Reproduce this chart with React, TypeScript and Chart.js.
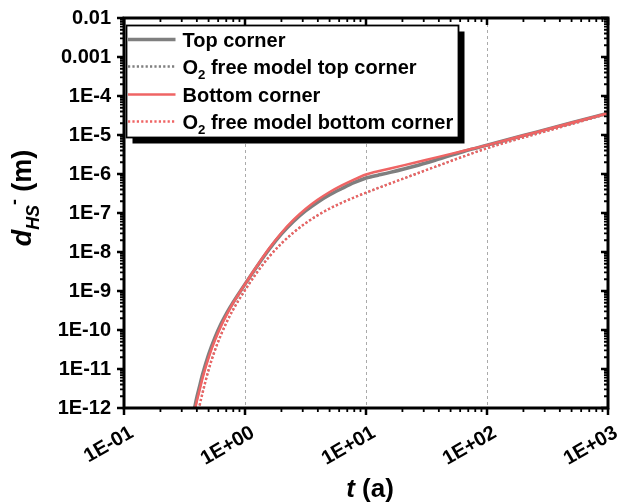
import React, { useEffect, useRef } from 'react';
import { Chart, registerables } from 'chart.js';

Chart.register(...registerables);

// ---- data (t in years, d in metres) ----
const TIME_A = [0.38, 0.389, 0.398, 0.417, 0.447, 0.501, 0.562, 0.631, 0.708, 0.794, 1, 1.259, 1.585, 1.995, 2.512, 3.162, 3.981, 5.012, 6.31, 7.943, 10, 11.22, 12.59, 15.85, 25.12, 39.81, 63.1, 100, 158.5, 251.2, 501.2, 1000];

const TOP_CORNER = [8.91e-13, 1.26e-12, 1.76e-12, 3.16e-12, 7.41e-12, 2.37e-11, 6.17e-11, 1.4e-10, 2.75e-10, 5.01e-10, 1.5e-9, 4.34e-9, 1.18e-8, 2.87e-8, 6.06e-8, 1.13e-7, 1.89e-7, 2.93e-7, 4.24e-7, 5.99e-7, 7.9e-7, 8.61e-7, 9.33e-7, 1.1e-6, 1.58e-6, 2.4e-6, 3.72e-6, 5.5e-6, 8.02e-6, 1.17e-5, 2.06e-5, 3.63e-5];
const O2_FREE_TOP = [2.51e-13, 3.55e-13, 5.01e-13, 1.0e-12, 2.51e-12, 9.68e-12, 2.92e-11, 7.35e-11, 1.63e-10, 3.25e-10, 1.05e-9, 3.02e-9, 7.59e-9, 1.64e-8, 3.14e-8, 5.46e-8, 8.71e-8, 1.3e-7, 1.83e-7, 2.49e-7, 3.32e-7, 3.8e-7, 4.37e-7, 5.71e-7, 9.73e-7, 1.65e-6, 2.78e-6, 4.57e-6, 7.05e-6, 1.05e-5, 1.91e-5, 3.55e-5];
const BOTTOM_CORNER = [7.08e-13, 1.0e-12, 1.4e-12, 2.51e-12, 6.03e-12, 1.97e-11, 5.25e-11, 1.22e-10, 2.51e-10, 4.79e-10, 1.5e-9, 4.44e-9, 1.24e-8, 3.07e-8, 6.65e-8, 1.27e-7, 2.18e-7, 3.45e-7, 5.1e-7, 7.2e-7, 9.72e-7, 1.08e-6, 1.17e-6, 1.38e-6, 1.95e-6, 2.75e-6, 3.89e-6, 5.5e-6, 8.02e-6, 1.17e-5, 2.06e-5, 3.63e-5];
const O2_FREE_BOTTOM = [2.51e-13, 3.55e-13, 5.01e-13, 1.0e-12, 2.51e-12, 9.68e-12, 2.92e-11, 7.35e-11, 1.63e-10, 3.25e-10, 1.05e-9, 3.02e-9, 7.59e-9, 1.64e-8, 3.14e-8, 5.46e-8, 8.71e-8, 1.3e-7, 1.83e-7, 2.49e-7, 3.32e-7, 3.8e-7, 4.37e-7, 5.71e-7, 9.73e-7, 1.65e-6, 2.78e-6, 4.57e-6, 7.05e-6, 1.05e-5, 1.91e-5, 3.55e-5];

const X_DECADES = [-1, 0, 1, 2, 3];
const X_TICK_LABELS = ['1E-01', '1E+00', '1E+01', '1E+02', '1E+03'];
const Y_DECADES = [-2, -3, -4, -5, -6, -7, -8, -9, -10, -11, -12];
const Y_TICK_LABELS = ['0.01', '0.001', '1E-4', '1E-5', '1E-6', '1E-7', '1E-8', '1E-9', '1E-10', '1E-11', '1E-12'];

const SERIES_LABELS = ['Top corner', 'O2 free model top corner', 'Bottom corner', 'O2 free model bottom corner'];

const GRAY = '#7f7f7f';
const RED = '#ef6464';
const FONT = "'Liberation Sans', Arial, Helvetica, sans-serif";

type Part = { t: string; italic?: boolean; small?: boolean; dy?: number };

function labelParts(label: string): Part[] {
  if (label.startsWith('O2')) {
    return [{ t: 'O' }, { t: '2', small: true, dy: 0.28 }, { t: label.slice(2) }];
  }
  return [{ t: label }];
}

function setFont(ctx: CanvasRenderingContext2D, p: Part, base: number) {
  const size = p.small ? base * 0.66 : base;
  ctx.font = `${p.italic ? 'italic ' : ''}bold ${size}px ${FONT}`;
}

function measureParts(ctx: CanvasRenderingContext2D, parts: Part[], base: number) {
  let w = 0;
  for (const p of parts) {
    setFont(ctx, p, base);
    w += ctx.measureText(p.t).width;
  }
  return w;
}

function drawParts(ctx: CanvasRenderingContext2D, parts: Part[], x: number, y: number, base: number) {
  let cx = x;
  for (const p of parts) {
    setFont(ctx, p, base);
    ctx.fillText(p.t, cx, y + (p.dy || 0) * base);
    cx += ctx.measureText(p.t).width;
  }
}

function decadeIndex(v: number, decades: number[]) {
  const l = Math.log10(v);
  const r = Math.round(l);
  if (Math.abs(l - r) > 1e-6) return -1;
  return decades.indexOf(r);
}

const decorPlugin = {
  id: 'decor',
  beforeDatasetsDraw(chart: any) {
    const { ctx, chartArea: a, scales } = chart;
    const xs = scales.x;
    ctx.save();
    ctx.strokeStyle = '#aaaaaa';
    ctx.lineWidth = 1;
    ctx.setLineDash([3, 3]);
    for (const d of X_DECADES) {
      const v = Math.pow(10, d);
      if (v <= xs.min * 1.0001 || v >= xs.max * 0.9999) continue;
      const px = Math.round(xs.getPixelForValue(v)) + 0.5;
      ctx.beginPath();
      ctx.moveTo(px, a.top);
      ctx.lineTo(px, a.bottom);
      ctx.stroke();
    }
    ctx.restore();
  },
  afterDatasetsDraw(chart: any) {
    const { ctx, chartArea: a, scales } = chart;
    const xs = scales.x;
    const ys = scales.y;
    ctx.save();
    ctx.setLineDash([]);
    ctx.strokeStyle = '#000';

    const each = (scale: any, fn: (px: number, major: boolean) => void) => {
      const lo = Math.floor(Math.log10(scale.min) + 1e-9);
      const hi = Math.ceil(Math.log10(scale.max) - 1e-9);
      for (let e = lo; e <= hi; e++) {
        for (let m = 1; m <= 9; m++) {
          const v = m * Math.pow(10, e);
          if (v < scale.min * 0.9999 || v > scale.max * 1.0001) continue;
          fn(scale.getPixelForValue(v), m === 1);
        }
      }
    };
    // x ticks: bottom outward, top inward
    each(xs, (px, major) => {
      ctx.lineWidth = major ? 2.5 : 1.8;
      const len = major ? 7 : 4;
      ctx.beginPath();
      ctx.moveTo(px, a.bottom);
      ctx.lineTo(px, a.bottom + len);
      ctx.moveTo(px, a.top);
      ctx.lineTo(px, a.top + len);
      ctx.stroke();
    });
    // y ticks: left outward, right inward
    each(ys, (py, major) => {
      ctx.lineWidth = major ? 2.5 : 1.8;
      const len = major ? 7 : 4;
      ctx.beginPath();
      ctx.moveTo(a.left, py);
      ctx.lineTo(a.left - len, py);
      ctx.moveTo(a.right, py);
      ctx.lineTo(a.right - len, py);
      ctx.stroke();
    });
    // frame
    ctx.lineWidth = 3;
    ctx.strokeRect(a.left, a.top, a.right - a.left, a.bottom - a.top);

    // legend
    const bx = a.left + 2.5;
    const by = a.top + 7.5;
    const bw = 332;
    const bh = 112;
    ctx.fillStyle = '#000';
    ctx.fillRect(bx + 6, by + 6, bw, bh);
    ctx.fillStyle = '#fff';
    ctx.fillRect(bx, by, bw, bh);
    ctx.lineWidth = 1.8;
    ctx.strokeRect(bx, by, bw, bh);

    const rows = [14, 41, 69, 96];
    chart.data.datasets.forEach((ds: any, i: number) => {
      const y = by + rows[i];
      ctx.save();
      ctx.strokeStyle = ds.borderColor;
      ctx.lineWidth = Math.max(ds.borderWidth, 2.5);
      ctx.setLineDash(ds.borderDash || []);
      ctx.beginPath();
      ctx.moveTo(bx + 1.5, y);
      ctx.lineTo(bx + 49, y);
      ctx.stroke();
      ctx.restore();
      ctx.fillStyle = '#000';
      ctx.textBaseline = 'alphabetic';
      ctx.textAlign = 'left';
      drawParts(ctx, labelParts(ds.label), bx + 56, y + 7, 20);
    });
    ctx.restore();
  },
  afterDraw(chart: any) {
    const { ctx, chartArea: a } = chart;
    ctx.save();
    ctx.fillStyle = '#000';
    ctx.textAlign = 'left';
    ctx.textBaseline = 'alphabetic';
    // x title
    const xParts: Part[] = [{ t: 't', italic: true }, { t: ' (a)' }];
    const xw = measureParts(ctx, xParts, 26);
    drawParts(ctx, xParts, (a.left + a.right) / 2 + 4 - xw / 2, 497, 26);
    // y title
    const yParts: Part[] = [
      { t: 'd', italic: true },
      { t: 'HS', italic: true, small: true, dy: 0.28 },
      { t: '-', small: true, dy: -0.42 },
      { t: ' (m)' },
    ];
    const yw = measureParts(ctx, yParts, 27);
    ctx.translate(31, 198);
    ctx.rotate(-Math.PI / 2);
    drawParts(ctx, yParts, -yw / 2, 0, 27);
    ctx.restore();
  },
};

export default function App() {
  const ref = useRef<HTMLCanvasElement | null>(null);

  useEffect(() => {
    const canvas = ref.current;
    if (!canvas) return;
    const mk = (vals: number[]) => TIME_A.map((t, i) => ({ x: t, y: vals[i] }));
    const chart = new Chart(canvas, {
      type: 'line',
      data: {
        datasets: [
          { label: SERIES_LABELS[0], data: mk(TOP_CORNER), borderColor: GRAY, borderWidth: 3.5, order: 4 },
          { label: SERIES_LABELS[1], data: mk(O2_FREE_TOP), borderColor: GRAY, borderWidth: 2, borderDash: [2.2, 2.2], order: 3 },
          { label: SERIES_LABELS[2], data: mk(BOTTOM_CORNER), borderColor: RED, borderWidth: 2.5, order: 2 },
          { label: SERIES_LABELS[3], data: mk(O2_FREE_BOTTOM), borderColor: RED, borderWidth: 2.5, borderDash: [2.2, 2.2], order: 1 },
        ] as any,
      },
      options: {
        animation: false,
        responsive: false,
        devicePixelRatio: 1,
        layout: { padding: { left: 0, top: 18, right: 11, bottom: 0 } },
        elements: {
          point: { radius: 0, hoverRadius: 0 },
          line: { cubicInterpolationMode: 'monotone', fill: false, borderCapStyle: 'butt' },
        },
        plugins: {
          legend: { display: false },
          tooltip: { enabled: false },
          title: { display: false },
        },
        scales: {
          x: {
            type: 'logarithmic',
            min: 0.1,
            max: 1000,
            afterFit: (s: any) => {
              s.height = 94;
              s.paddingLeft = 0;
              s.paddingRight = 0;
            },
            grid: { display: true, drawOnChartArea: false, drawTicks: true, tickLength: 7, color: 'transparent', tickColor: 'transparent' },
            border: { display: false },
            ticks: {
              autoSkip: false,
              minRotation: 30,
              maxRotation: 30,
              padding: 6,
              labelOffset: 8,
              color: '#000',
              font: { family: FONT, weight: 'bold', size: 20 },
              callback: (v: any) => {
                const i = decadeIndex(Number(v), X_DECADES);
                return i >= 0 ? X_TICK_LABELS[i] : '';
              },
            },
          },
          y: {
            type: 'logarithmic',
            min: 1e-12,
            max: 0.01,
            afterFit: (s: any) => {
              s.width = 124;
              s.paddingTop = 0;
              s.paddingBottom = 0;
            },
            grid: { display: true, drawOnChartArea: false, drawTicks: true, tickLength: 7, color: 'transparent', tickColor: 'transparent' },
            border: { display: false },
            ticks: {
              autoSkip: false,
              padding: 6,
              color: '#000',
              font: { family: FONT, weight: 'bold', size: 20 },
              callback: (v: any) => {
                const i = decadeIndex(Number(v), Y_DECADES);
                return i >= 0 ? Y_TICK_LABELS[i] : '';
              },
            },
          },
        },
      } as any,
      plugins: [decorPlugin],
    });
    return () => chart.destroy();
  }, []);

  return (
    <div style={{ position: 'absolute', left: 0, top: 0, width: 619, height: 502, background: '#fff' }}>
      <canvas ref={ref} width={619} height={502} style={{ display: 'block', width: 619, height: 502 }} />
    </div>
  );
}
